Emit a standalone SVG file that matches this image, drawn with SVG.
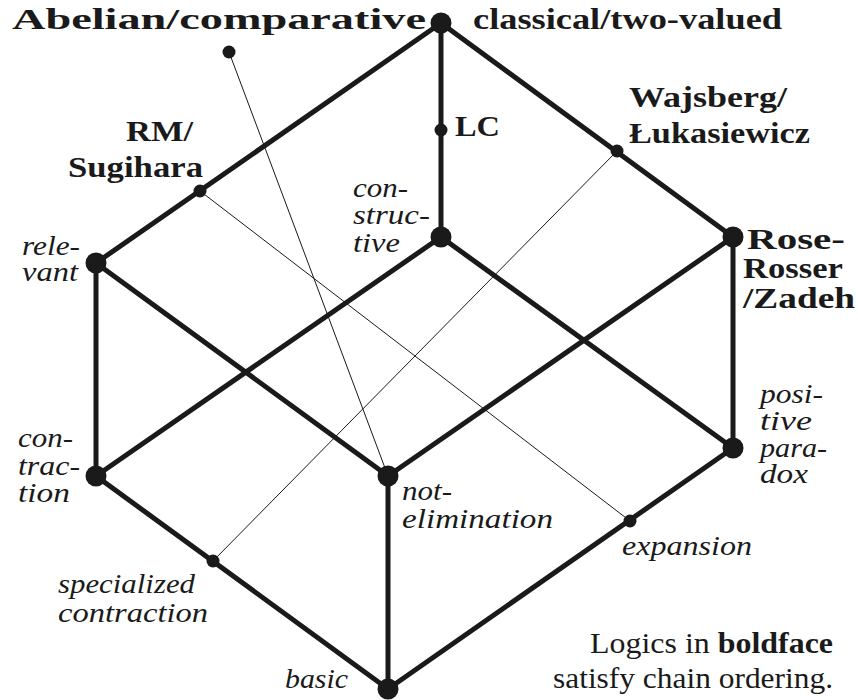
<svg xmlns="http://www.w3.org/2000/svg" width="858" height="700" viewBox="0 0 858 700">
<style>
.e{stroke:#1a1a1a;stroke-width:5;stroke-linecap:round;fill:none}
.t{stroke:#1a1a1a;stroke-width:1;fill:none}
.big{fill:#1a1a1a}
text{font-family:'Liberation Serif','Times New Roman',serif;fill:#1a1a1a}
.b{font-weight:700;font-size:30px}
.i{font-style:italic;font-size:27px}
.r{font-size:29px}
</style>
<rect width="858" height="700" fill="#ffffff"/>
<g id="connectors">
<line class="t" x1="229" y1="52" x2="388" y2="476"/>
<line class="t" x1="200" y1="191" x2="630" y2="521"/>
<line class="t" x1="617" y1="151" x2="213" y2="561"/>
<line class="e" x1="441" y1="23" x2="96" y2="263"/>
<line class="e" x1="441" y1="23" x2="441" y2="237"/>
<line class="e" x1="441" y1="23" x2="733" y2="237"/>
<line class="e" x1="96" y1="263" x2="96" y2="476"/>
<line class="e" x1="96" y1="263" x2="388" y2="476"/>
<line class="e" x1="441" y1="237" x2="96" y2="476"/>
<line class="e" x1="441" y1="237" x2="733" y2="448"/>
<line class="e" x1="733" y1="237" x2="388" y2="476"/>
<line class="e" x1="733" y1="237" x2="733" y2="448"/>
<line class="e" x1="96" y1="476" x2="388" y2="689"/>
<line class="e" x1="388" y1="476" x2="388" y2="689"/>
<line class="e" x1="733" y1="448" x2="388" y2="689"/>
</g>
<g id="classical"><circle class="big" cx="441" cy="23" r="10.5"/><text class="b" x="473" y="29" textLength="309" lengthAdjust="spacingAndGlyphs">classical/two-valued</text></g>
<g id="abelian"><circle class="big" cx="229" cy="52" r="6.5"/><text class="b" x="12" y="29" textLength="414" lengthAdjust="spacingAndGlyphs">Abelian/comparative</text></g>
<g id="lc"><circle class="big" cx="441" cy="130" r="6.5"/><text class="b" x="455" y="136" textLength="45" lengthAdjust="spacingAndGlyphs">LC</text></g>
<g id="wajsberg"><circle class="big" cx="617" cy="151" r="6.5"/><text class="b"><tspan x="629" y="107" textLength="158" lengthAdjust="spacingAndGlyphs">Wajsberg/</tspan><tspan x="629" y="143" textLength="181" lengthAdjust="spacingAndGlyphs">Łukasiewicz</tspan></text></g>
<g id="rm"><circle class="big" cx="200" cy="191" r="6.5"/><text class="b"><tspan x="126" y="141" textLength="67" lengthAdjust="spacingAndGlyphs">RM/</tspan><tspan x="68" y="177" textLength="135" lengthAdjust="spacingAndGlyphs">Sugihara</tspan></text></g>
<g id="relevant"><circle class="big" cx="96" cy="263" r="10.5"/><text class="i"><tspan x="22" y="255" textLength="58" lengthAdjust="spacingAndGlyphs">rele-</tspan><tspan x="22" y="281" textLength="56" lengthAdjust="spacingAndGlyphs">vant</tspan></text></g>
<g id="constructive"><circle class="big" cx="441" cy="237" r="10.5"/><text class="i"><tspan x="353" y="197" textLength="55" lengthAdjust="spacingAndGlyphs">con-</tspan><tspan x="353" y="224" textLength="77" lengthAdjust="spacingAndGlyphs">struc-</tspan><tspan x="353" y="252" textLength="47" lengthAdjust="spacingAndGlyphs">tive</tspan></text></g>
<g id="roserosser"><circle class="big" cx="733" cy="237" r="10.5"/><text class="b"><tspan x="747" y="249" textLength="98" lengthAdjust="spacingAndGlyphs">Rose-</tspan><tspan x="743" y="278" textLength="100" lengthAdjust="spacingAndGlyphs">Rosser</tspan><tspan x="743" y="308" textLength="112" lengthAdjust="spacingAndGlyphs">/Zadeh</tspan></text></g>
<g id="contraction"><circle class="big" cx="96" cy="476" r="10.5"/><text class="i"><tspan x="18" y="447" textLength="55" lengthAdjust="spacingAndGlyphs">con-</tspan><tspan x="18" y="475" textLength="62" lengthAdjust="spacingAndGlyphs">trac-</tspan><tspan x="18" y="502" textLength="52" lengthAdjust="spacingAndGlyphs">tion</tspan></text></g>
<g id="notelimination"><circle class="big" cx="388" cy="476" r="10.5"/><text class="i"><tspan x="402" y="500" textLength="50" lengthAdjust="spacingAndGlyphs">not-</tspan><tspan x="402" y="528" textLength="151" lengthAdjust="spacingAndGlyphs">elimination</tspan></text></g>
<g id="positiveparadox"><circle class="big" cx="733" cy="448" r="10.5"/><text class="i"><tspan x="760" y="403" textLength="63" lengthAdjust="spacingAndGlyphs">posi-</tspan><tspan x="760" y="430" textLength="52" lengthAdjust="spacingAndGlyphs">tive</tspan><tspan x="760" y="457" textLength="67" lengthAdjust="spacingAndGlyphs">para-</tspan><tspan x="760" y="483" textLength="48" lengthAdjust="spacingAndGlyphs">dox</tspan></text></g>
<g id="specializedcontraction"><circle class="big" cx="213" cy="561" r="6.5"/><text class="i"><tspan x="58" y="593" textLength="137" lengthAdjust="spacingAndGlyphs">specialized</tspan><tspan x="58" y="622" textLength="150" lengthAdjust="spacingAndGlyphs">contraction</tspan></text></g>
<g id="expansion"><circle class="big" cx="630" cy="521" r="6.5"/><text class="i" x="622" y="555" textLength="130" lengthAdjust="spacingAndGlyphs">expansion</text></g>
<g id="basic"><circle class="big" cx="388" cy="689" r="10.5"/><text class="i" x="285" y="688" textLength="63" lengthAdjust="spacingAndGlyphs">basic</text></g>
<g id="legend"><text class="r"><tspan x="590" y="653" textLength="243" lengthAdjust="spacingAndGlyphs">Logics in <tspan font-weight="bold">boldface</tspan></tspan><tspan x="553" y="688" textLength="280" lengthAdjust="spacingAndGlyphs">satisfy chain ordering.</tspan></text></g>
</svg>
